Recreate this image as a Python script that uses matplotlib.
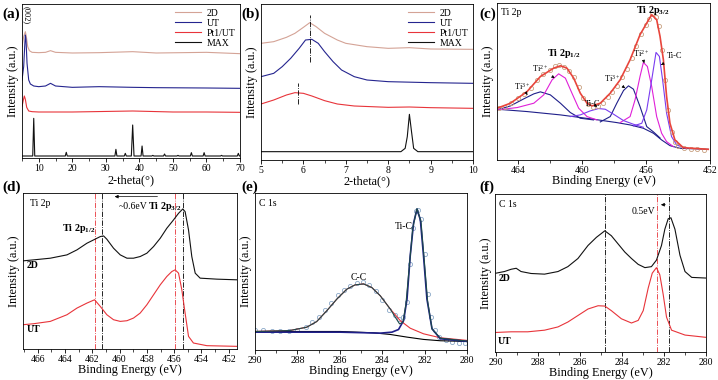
import numpy as np
import matplotlib.pyplot as plt
from matplotlib.ticker import MultipleLocator

plt.rcParams['font.family'] = ['Liberation Serif', 'DejaVu Serif']
plt.rcParams['mathtext.fontset'] = 'custom'
plt.rcParams['mathtext.rm'] = 'Liberation Serif'
plt.rcParams['mathtext.bf'] = 'Liberation Serif:bold'
plt.rcParams['mathtext.it'] = 'Liberation Serif:italic'

## colours
c2d = "#d4a396"; cut = "#25258f"; cpt = "#e8343a"; cmax = "#111111"
cnavy = "#1f1f8a"; cmag = "#e020d8"; cvio = "#7a3cf0"

## ---------- (a) XRD wide ----------
a_2d_x = [5, 5.5, 6.0, 6.3, 6.7, 7.2, 8, 10, 12, 13.5, 15, 20, 28, 38, 45, 60, 70]
a_2d_y = [334, 364, 379, 364, 334, 322, 317, 316, 317, 322, 317, 315, 316, 319, 315, 317, 313]
a_ut_x = [5, 5.5, 5.8, 6.0, 6.2, 6.5, 7, 7.5, 8.5, 10, 12, 13.5, 15, 20, 28, 38, 45, 60, 70]
a_ut_y = [234, 274, 334, 369, 354, 284, 234, 222, 216, 214, 216, 224, 216, 212, 214, 212, 211, 210, 209]
a_pt_x = [5, 5.4, 5.7, 6.0, 6.4, 7, 8, 10, 20, 38, 50, 60, 70]
a_pt_y = [154, 174, 186, 176, 152, 141, 139, 138, 138, 141, 138, 138, 137]
a_max_x = [5, 8.2, 8.5, 8.8, 17.9, 18.2, 18.5, 32.7, 33, 33.3, 35.5, 35.8, 36.1, 37.6, 38, 38.4,
           40.5, 40.8, 41.1, 43.7, 44, 44.3, 47.2, 47.5, 47.8, 51.2, 51.5, 51.8, 55.2, 55.5, 55.8,
           59, 59.3, 59.6, 64.2, 64.5, 64.8, 69.2, 69.5, 69.8, 70]
a_max_y = [6, 6, 119, 6, 6, 17, 6, 6, 26, 6, 6, 14, 6, 6, 99, 6, 6, 36, 6, 6, 8, 6, 6, 12, 6,
           6, 8, 6, 6, 16, 6, 6, 16, 6, 6, 8, 6, 6, 14, 6, 6]

## ---------- (b) XRD low angle ----------
b_2d_x = [5, 5.3, 5.6, 5.8, 6.0, 6.15, 6.3, 6.5, 6.8, 7.0, 7.5, 8.0, 8.5, 9.0, 10]
b_2d_y = [350, 355, 368, 380, 398, 412, 400, 380, 360, 350, 340, 335, 337, 333, 332]
b_ut_x = [5, 5.3, 5.5, 5.7, 5.9, 6.05, 6.2, 6.35, 6.5, 6.7, 6.9, 7.2, 7.5, 8, 9, 10]
b_ut_y = [250, 260, 280, 305, 335, 360, 362, 350, 325, 295, 270, 250, 240, 235, 232, 230]
b_pt_x = [5, 5.3, 5.6, 5.8, 6.0, 6.2, 6.5, 6.8, 7.2, 8, 8.5, 9, 10]
b_pt_y = [168, 180, 195, 202, 200, 192, 178, 168, 162, 158, 159, 157, 155]
b_max_x = [5, 8.3, 8.4, 8.45, 8.5, 8.55, 8.6, 8.7, 10]
b_max_y = [25, 25, 35, 70, 137, 85, 35, 25, 25]

## ---------- (c) Ti 2p fit ----------
c_env_x = [465.29, 464.46, 463.42, 462.59, 461.76, 461.34, 460.93, 460.51, 460.10, 459.68, 459.37,
           458.85, 458.23, 457.61, 456.99, 456.37, 455.95, 455.64, 455.33, 455.12, 454.91, 454.71,
           454.50, 454.19, 453.67, 452.11]
c_env_y = [155, 170, 205, 250, 275, 282, 275, 245, 200, 170, 162, 170, 200, 240, 300, 375, 410,
           435, 420, 370, 300, 190, 110, 60, 37, 32]
c_dat_x = [465.2, 464.8, 464.4, 464.0, 463.6, 463.2, 462.8, 462.4, 462.0, 461.7, 461.4, 461.1,
           460.8, 460.5, 460.2, 459.9, 459.6, 459.3, 459.0, 458.7, 458.4, 458.1, 457.8, 457.5,
           457.2, 456.9, 456.6, 456.3, 456.0, 455.8, 455.6, 455.4, 455.2, 455.0, 454.8, 454.6,
           454.4, 454.2, 454.0, 453.6, 453.2, 452.8, 452.4]
c_dat_y = [157, 160, 172, 185, 197, 215, 238, 258, 270, 280, 284, 278, 265, 248, 218, 186, 168,
           160, 163, 172, 188, 205, 222, 248, 272, 305, 340, 378, 405, 422, 436, 428, 400, 330,
           240, 150, 85, 55, 42, 36, 33, 32, 31]
c_bg_x = [465.29, 463.42, 461.34, 459.27, 457.82, 456.99, 456.16, 455.53, 455.02, 454.50, 453.88, 452.11]
c_bg_y = [152, 145, 135, 122, 112, 105, 95, 80, 60, 43, 35, 32]
c_ti3a_x = [465.29, 464.46, 463.63, 463.00, 462.59, 461.97, 461.34, 460.72, 460.10, 459.27]
c_ti3a_y = [150, 162, 183, 198, 204, 195, 170, 142, 125, 120]
c_ti2a_x = [465.29, 464.04, 463.00, 462.38, 461.86, 461.45, 461.03, 460.62, 460.20, 459.68, 459.06]
c_ti2a_y = [150, 157, 170, 195, 240, 258, 245, 200, 155, 130, 120]
c_tica_x = [460.72, 460.10, 459.48, 458.96, 458.54, 458.02, 457.40, 456.78, 456.16]
c_tica_y = [130, 135, 147, 154, 152, 137, 118, 107, 98]
c_ti3b_x = [458.85, 458.23, 457.82, 457.40, 457.09, 456.78, 456.37, 455.95, 455.53, 455.12]
c_ti3b_y = [114, 130, 170, 208, 222, 212, 160, 100, 84, 66]
c_ti2b_x = [457.61, 456.99, 456.68, 456.37, 456.16, 455.91, 455.64, 455.33, 455.02, 454.71, 454.29]
c_ti2b_y = [112, 130, 180, 250, 292, 280, 220, 130, 80, 55, 40]
c_ticb_x = [456.78, 456.26, 455.95, 455.64, 455.37, 455.16, 454.96, 454.71, 454.40, 454.08, 453.46]
c_ticb_y = [102, 110, 150, 240, 322, 310, 240, 140, 70, 45, 34]

## ---------- (d) Ti 2p comparison ----------
d_2d_x = [467.07, 466.29, 465.07, 463.85, 463.12, 462.39, 461.90, 461.41, 461.17, 460.93, 460.44,
          459.95, 459.46, 458.98, 458.49, 458.00, 457.51, 457.02, 456.54, 456.05, 455.68, 455.37,
          455.20, 454.95, 454.71, 454.46, 454.10, 452.88, 451.41]
d_2d_y = [265, 268, 273, 283, 298, 318, 328, 338, 340, 330, 303, 283, 273, 273, 278, 288, 308, 333,
          363, 388, 408, 421, 413, 358, 278, 228, 213, 210, 208]
d_ut_x = [467.07, 466.29, 465.07, 463.85, 463.12, 462.39, 461.83, 461.41, 460.93, 460.44, 459.95,
          459.46, 458.98, 458.49, 458.00, 457.51, 457.02, 456.54, 456.17, 455.93, 455.68, 455.44,
          455.20, 454.95, 454.59, 453.61, 451.41]
d_ut_y = [73, 76, 83, 103, 123, 138, 148, 128, 103, 88, 83, 85, 93, 108, 133, 163, 193, 218, 233,
          238, 228, 178, 108, 38, 18, 10, 8]
d_lines_ut = [461.83, 455.93]
d_lines_2d = [461.29, 455.37]

## ---------- (e) C 1s fit ----------
e_bg_x = [290, 287.56, 285.98, 284.41, 283.62, 282.83, 282.05, 281.26, 280]
e_bg_y = [56, 56, 56, 52, 47, 39, 32, 28, 26]
e_tic_x = [290, 285.98, 284.09, 283.54, 283.23, 282.99, 282.83, 282.68, 282.52, 282.36, 282.20,
           282.05, 281.89, 281.65, 281.26, 280]
e_tic_y = [54, 54, 51, 54, 62, 89, 154, 284, 384, 426, 394, 284, 154, 64, 34, 26]
e_cc_x = [290, 288.35, 287.56, 287.09, 286.61, 286.14, 285.67, 285.28, 284.88, 284.49, 284.09,
          283.62, 283.15, 282.68, 282.05, 281.26, 280]
e_cc_y = [56, 59, 69, 86, 119, 154, 184, 197, 200, 189, 164, 124, 89, 66, 49, 37, 29]
e_env_x = [290, 288.35, 287.56, 287.09, 286.61, 286.14, 285.67, 285.28, 284.88, 284.49, 284.09,
           283.62, 283.38, 283.18, 283.02, 282.88, 282.72, 282.56, 282.36, 282.17, 282.02, 281.86,
           281.65, 281.26, 280]
e_env_y = [56, 59, 69, 86, 119, 154, 184, 197, 200, 189, 164, 124, 99, 79, 84, 139, 254, 369, 428,
           389, 274, 149, 64, 36, 27]
e_dat_x = [290, 289.6, 289.2, 288.8, 288.4, 288.0, 287.6, 287.3, 287.0, 286.7, 286.4, 286.1, 285.8,
           285.5, 285.2, 284.9, 284.6, 284.3, 284.0, 283.7, 283.4, 283.2, 283.0, 282.85, 282.7,
           282.55, 282.4, 282.3, 282.15, 282.0, 281.85, 281.7, 281.5, 281.3, 281.0, 280.7, 280.4, 280.1]
e_dat_y = [60, 62, 58, 57, 56, 60, 70, 85, 100, 120, 142, 165, 182, 195, 202, 205, 198, 180, 150,
           122, 105, 95, 100, 145, 260, 370, 422, 425, 395, 290, 170, 100, 60, 40, 30, 24, 22, 20]

## ---------- (f) C 1s comparison ----------
f_2d_x = [290, 289.6, 289.28, 289.04, 288.81, 288.33, 287.69, 287.05, 286.58, 286.10, 285.62,
          285.22, 284.82, 284.51, 284.19, 283.87, 283.55, 283.23, 282.91, 282.60, 282.36, 282.12,
          281.96, 281.80, 281.67, 281.48, 281.24, 281.00, 280.68, 280]
f_2d_y = [242, 247, 254, 257, 247, 241, 239, 247, 262, 287, 327, 352, 372, 357, 332, 307, 287, 269,
          259, 262, 282, 327, 377, 409, 412, 377, 297, 247, 229, 227]
f_ut_x = [290, 289.28, 288.49, 287.69, 287.05, 286.58, 286.10, 285.62, 285.14, 284.82, 284.51,
          284.03, 283.55, 283.23, 282.99, 282.75, 282.56, 282.36, 282.20, 282.04, 281.88, 281.64,
          281.00, 280]
f_ut_y = [60, 62, 62, 67, 77, 92, 112, 132, 142, 141, 127, 102, 89, 97, 127, 197, 242, 259, 237,
          177, 107, 67, 52, 45]
f_lines_2d = [284.82, 281.77]
f_lines_ut = [282.33]

W, H = 718, 380
fig = plt.figure(figsize=(W / 100, H / 100), dpi=100)

def box(l, t, r, b):
    return [l / W, 1 - b / H, (r - l) / W, (b - t) / H]

def style(ax, xlabel, lpad=0, tpad=1.5):
    ax.set_yticks([])
    ax.tick_params(axis='x', direction='out', length=3, width=0.6, labelsize=7, pad=tpad)
    ax.tick_params(axis='x', which='minor', direction='out', length=1.8, width=0.5)
    for s in ax.spines.values():
        s.set_linewidth(0.6)
    ax.set_xlabel(xlabel, fontsize=8.8, labelpad=lpad)
    ax.set_ylabel("Intensity (a.u.)", fontsize=8.8, labelpad=2)

lw = 0.8

# (a)
ax = fig.add_axes(box(22, 4, 240, 158))
ax.plot(a_2d_x, a_2d_y, color=c2d, lw=lw, label="2D")
ax.plot(a_ut_x, a_ut_y, color=cut, lw=lw, label="UT")
ax.plot(a_pt_x, a_pt_y, color=cpt, lw=lw, label="Pt1/UT")
ax.plot(a_max_x, a_max_y, color=cmax, lw=lw, label="MAX")
ax.set_xlim(5, 70); ax.set_ylim(0, 462)
ax.xaxis.set_major_locator(MultipleLocator(10)); ax.xaxis.set_minor_locator(MultipleLocator(5))
ax.text(6.4, 455, "(002)", rotation=270, fontsize=6, ha='center', va='top')
ax.legend(loc='upper right', fontsize=7, frameon=False, handlelength=2.6, labelspacing=0.1,
          borderaxespad=0.1, handletextpad=0.6)
style(ax, "2-theta(°)", 1)

# (b)
ax = fig.add_axes(box(261, 4, 473, 160))
ax.plot(b_2d_x, b_2d_y, color=c2d, lw=lw, label="2D")
ax.plot(b_ut_x, b_ut_y, color=cut, lw=lw, label="UT")
ax.plot(b_pt_x, b_pt_y, color=cpt, lw=lw, label="Pt1/UT")
ax.plot(b_max_x, b_max_y, color=cmax, lw=lw, label="MAX")
ax.plot([6.15, 6.15], [295, 435], color='k', lw=0.6, ls='-.')
ax.plot([5.87, 5.87], [168, 230], color='k', lw=0.6, ls='-.')
ax.set_xlim(5, 10); ax.set_ylim(0, 468)
ax.xaxis.set_major_locator(MultipleLocator(1)); ax.xaxis.set_minor_locator(MultipleLocator(0.5))
ax.legend(loc='upper right', fontsize=7, frameon=False, handlelength=2.6, labelspacing=0.1,
          borderaxespad=0.1, handletextpad=0.6)
style(ax, "2-theta(°)", 0)

# (c)
ax = fig.add_axes(box(497, 3, 710, 160))
ax.plot(c_bg_x, c_bg_y, color=cnavy, lw=lw)
ax.plot(c_ti3a_x, c_ti3a_y, color=cnavy, lw=lw)
ax.plot(c_ti3b_x, c_ti3b_y, color=cnavy, lw=lw)
ax.plot(c_ti2a_x, c_ti2a_y, color=cmag, lw=lw)
ax.plot(c_ti2b_x, c_ti2b_y, color=cmag, lw=lw)
ax.plot(c_tica_x, c_tica_y, color=cvio, lw=lw)
ax.plot(c_ticb_x, c_ticb_y, color=cvio, lw=lw)
ax.plot(c_dat_x, c_dat_y, 'o', ms=3, mfc='none', mec='#c8a080', mew=0.6)
ax.plot(c_env_x, c_env_y, color="#e8453c", lw=1.2)
ax.set_xlim(465.3, 452); ax.set_ylim(0, 470)
ax.xaxis.set_major_locator(MultipleLocator(4)); ax.xaxis.set_minor_locator(MultipleLocator(2))
ax.text(0.02, 0.97, "Ti 2p", transform=ax.transAxes, fontsize=7, va='top')
ax.text(455.6, 467, r"Ti 2p$_{\mathbf{3/2}}$", fontsize=7.3, fontweight='bold', ha='center', va='top')
ax.text(461.1, 298, r"Ti 2p$_{\mathbf{1/2}}$", fontsize=7.3, fontweight='bold', ha='center', va='bottom')
arr = dict(arrowstyle='-|>', color='k', lw=0.5, mutation_scale=4)
ax.annotate(r"Ti$^{3+}$", xy=(463.4, 195), xytext=(463.75, 205), fontsize=6, ha='center', va='bottom', arrowprops=arr)
ax.annotate(r"Ti$^{2+}$", xy=(461.7, 245), xytext=(462.6, 258), fontsize=6, ha='center', va='bottom', arrowprops=arr)
ax.annotate("Ti-C", xy=(458.9, 155), xytext=(459.3, 155), fontsize=6, ha='center', va='bottom', arrowprops=arr)
ax.annotate(r"Ti$^{3+}$", xy=(457.3, 215), xytext=(458.1, 228), fontsize=6, ha='center', va='bottom', arrowprops=arr)
ax.annotate(r"Ti$^{2+}$", xy=(456.1, 290), xytext=(456.3, 302), fontsize=6, ha='center', va='bottom', arrowprops=arr)
ax.annotate("Ti-C", xy=(455.2, 280), xytext=(454.2, 298), fontsize=6, ha='center', va='bottom', arrowprops=arr)
style(ax, "Binding Energy (eV)", 0)

# (d)
ax = fig.add_axes(box(23, 193, 237, 349))
for xv in d_lines_ut:
    ax.axvline(xv, color=cpt, lw=0.6, ls='-.')
for xv in d_lines_2d:
    ax.axvline(xv, color='k', lw=0.6, ls='-.')
ax.plot(d_2d_x, d_2d_y, color=cmax, lw=lw)
ax.plot(d_ut_x, d_ut_y, color=cpt, lw=lw)
ax.set_xlim(467.07, 451.4); ax.set_ylim(0, 469)
ax.xaxis.set_major_locator(MultipleLocator(2)); ax.xaxis.set_minor_locator(MultipleLocator(1))
ax.annotate("", xy=(460.56, 458), xytext=(457.02, 458),
            arrowprops=dict(arrowstyle='-|>', color='k', lw=0.5, mutation_scale=5))
ax.text(458.98, 428, "~0.6eV", fontsize=7, ha='center', va='center')
ax.text(456.7, 428, r"Ti 2p$_{\mathbf{3/2}}$", fontsize=7.3, fontweight='bold', ha='center', va='center')
ax.text(463.0, 363, r"Ti 2p$_{\mathbf{1/2}}$", fontsize=7.3, fontweight='bold', ha='center', va='center')
ax.text(466.8, 252, "2D", fontsize=7, fontweight='bold', va='center')
ax.text(466.8, 60, "UT", fontsize=7, fontweight='bold', va='center')
ax.text(0.035, 0.96, "Ti 2p", transform=ax.transAxes, fontsize=7, va='top')
style(ax, "Binding Energy (eV)", 0)

# (e)
ax = fig.add_axes(box(255, 193, 467, 350))
ax.plot(e_dat_x, e_dat_y, 'o', ms=3, mfc='none', mec='#8aa8c8', mew=0.6)
ax.plot(e_bg_x, e_bg_y, color='k', lw=lw)
ax.plot(e_cc_x, e_cc_y, color=cpt, lw=lw)
ax.plot(e_tic_x, e_tic_y, color=cnavy, lw=1.2)
ax.plot(e_env_x, e_env_y, color='#1d4a4a', lw=lw)
ax.set_xlim(290, 280); ax.set_ylim(0, 475)
ax.xaxis.set_major_locator(MultipleLocator(2)); ax.xaxis.set_minor_locator(MultipleLocator(1))
ax.text(0.02, 0.96, "C 1s", transform=ax.transAxes, fontsize=7, va='top')
ax.text(282.55, 375, "Ti-C", fontsize=7, ha='right', va='center')
ax.text(285.12, 218, "C-C", fontsize=7, ha='center', va='center')
style(ax, "Binding Energy (eV)", 0, 1)

# (f)
ax = fig.add_axes(box(495, 194, 706, 352))
for xv in f_lines_2d:
    ax.axvline(xv, color='k', lw=0.6, ls='-.')
for xv in f_lines_ut:
    ax.axvline(xv, color=cpt, lw=0.6, ls='-.')
ax.plot(f_2d_x, f_2d_y, color=cmax, lw=lw)
ax.plot(f_ut_x, f_ut_y, color=cpt, lw=lw)
ax.set_xlim(290.05, 280); ax.set_ylim(0, 485)
ax.xaxis.set_major_locator(MultipleLocator(2)); ax.xaxis.set_minor_locator(MultipleLocator(1))
ax.annotate("", xy=(282.28, 452), xytext=(281.8, 452),
            arrowprops=dict(arrowstyle='-|>', color='k', lw=0.5, mutation_scale=5))
ax.text(282.96, 432, "0.5eV", fontsize=7, ha='center', va='center')
ax.text(289.9, 225, "2D", fontsize=7, fontweight='bold', va='center')
ax.text(289.9, 32, "UT", fontsize=7, fontweight='bold', va='center')
ax.text(0.02, 0.96, "C 1s", transform=ax.transAxes, fontsize=7, va='top')
style(ax, "Binding Energy (eV)", 0, 1)

for lab, x, y in [("(a)", 2, 14), ("(b)", 241, 14), ("(c)", 479, 14),
                  ("(d)", 2, 187), ("(e)", 241, 187), ("(f)", 479, 187)]:
    fig.text(x / W, 1 - y / H, lab, fontsize=11, fontweight='bold', va='center')

fig.savefig("out.png", dpi=100)
